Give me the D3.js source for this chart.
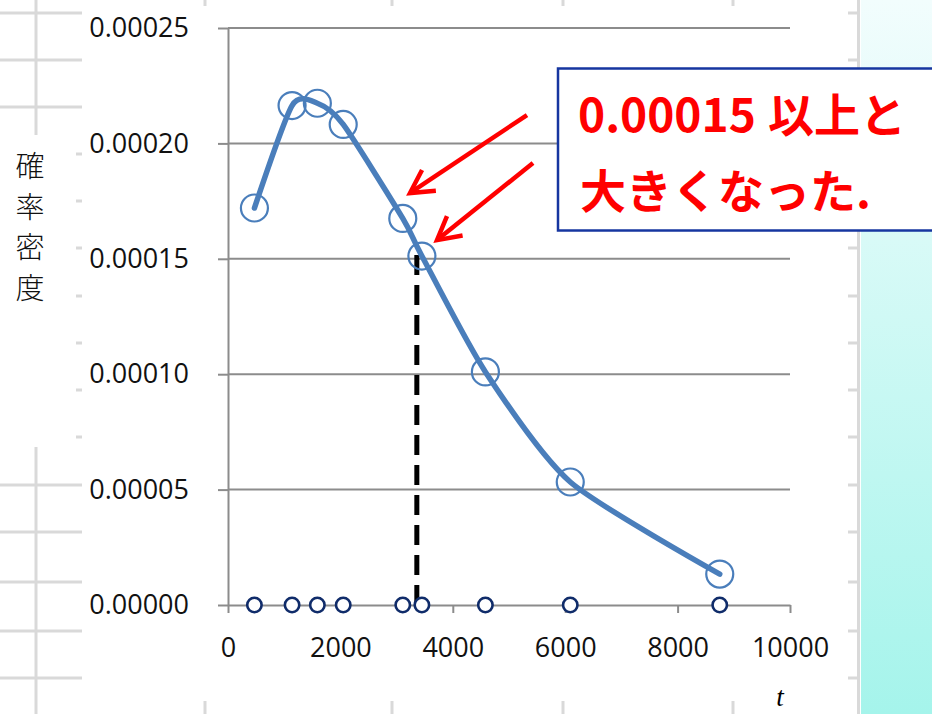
<!DOCTYPE html>
<html><head><meta charset="utf-8">
<script src="https://cdn.jsdelivr.net/npm/d3@7"></script>
<style>html,body{margin:0;padding:0;background:#fff;overflow:hidden}</style>
</head><body>
<svg id="chart" width="932" height="714"></svg>
<script>
// ---- data ----
const tValues = [470, 1140, 1590, 2050, 3110, 3450, 4580, 6090, 8750];
const density = [0.000172, 0.0002164, 0.0002174, 0.0002082, 0.0001675, 0.0001512, 0.000101, 0.0000533, 0.0000134];
const xTicks = [0, 2000, 4000, 6000, 8000, 10000];
const yTicks = [0, 0.00005, 0.0001, 0.00015, 0.0002, 0.00025];
const yTickLabels = ["0.00000", "0.00005", "0.00010", "0.00015", "0.00020", "0.00025"];
const thresholdT = 3360;
const thresholdTop = 0.0001545;
const yTitleChars = ["確", "率", "密", "度"];
const xTitle = "t";
const noteLines = [["0.00015", "以上と"], ["大きくなった."]];
// arrow tails/tips in data units: [tailT, tailD, tipT, tipD]
const arrows = [[5320, 0.0002123, 3238, 0.0001785], [5427, 0.0001915, 3719, 0.0001581]];

const svg = d3.select("#chart");
const W = 932, H = 714;

// ---- spreadsheet background ----
const sheet = svg.append("g").attr("stroke", "#d9d9d9").attr("stroke-width", 3);
const rows = [13, 60, 107, 154, 201, 248, 296, 343, 390, 437, 485, 532, 582, 631, 678];
rows.forEach(r => {
  const full = r < 130 || r > 450;
  sheet.append("line").attr("x1", full ? 0 : 76).attr("x2", 82).attr("y1", r).attr("y2", r);
  if (r < 65 || r > 240) sheet.append("line").attr("x1", 848).attr("x2", 858).attr("y1", r).attr("y2", r);
});
sheet.append("line").attr("x1", 36).attr("x2", 36).attr("y1", 0).attr("y2", 135);
sheet.append("line").attr("x1", 36).attr("x2", 36).attr("y1", 447).attr("y2", H);
[205, 392, 563, 733].forEach(c => {
  sheet.append("line").attr("x1", c).attr("x2", c).attr("y1", 0).attr("y2", 6);
  sheet.append("line").attr("x1", c).attr("x2", c).attr("y1", 701).attr("y2", H);
});
sheet.append("line").attr("x1", 858.5).attr("x2", 858.5).attr("y1", 0).attr("y2", H);

// right gradient panel
const defs = svg.append("defs");
const grad = defs.append("linearGradient").attr("id", "panel").attr("x1", 0).attr("y1", 0).attr("x2", 0).attr("y2", 1);
grad.append("stop").attr("offset", "0%").attr("stop-color", "#f2fdfd");
grad.append("stop").attr("offset", "100%").attr("stop-color", "#a5f4eb");
svg.append("rect").attr("x", 861).attr("y", 0).attr("width", W - 861).attr("height", H).attr("fill", "url(#panel)");

// ---- scales ----
const x = d3.scaleLinear().domain([0, 10000]).range([228, 790]);
const y = d3.scaleLinear().domain([0, 0.00025]).range([605, 28]);
const axisColor = "#8c8c8c";

// gridlines
svg.append("g").selectAll("line").data(yTicks.filter(v => v > 0)).join("line")
  .attr("x1", x(0)).attr("x2", x(10000)).attr("y1", d => y(d)).attr("y2", d => y(d))
  .attr("stroke", axisColor).attr("stroke-width", 2);

// axes
const yAxis = svg.append("g").attr("transform", `translate(${x(0)},0)`)
  .call(d3.axisLeft(y).tickValues(yTicks).tickFormat((d, i) => yTickLabels[i]).tickSizeInner(10).tickSizeOuter(0).tickPadding(29));
const xAxis = svg.append("g").attr("transform", `translate(0,${y(0)})`)
  .call(d3.axisBottom(x).tickValues(xTicks).tickFormat(d3.format("d")).tickSizeInner(8).tickSizeOuter(0).tickPadding(25));
[yAxis, xAxis].forEach(a => {
  a.selectAll(".domain").attr("stroke", axisColor).attr("stroke-width", 2);
  a.selectAll(".tick line").attr("stroke", axisColor).attr("stroke-width", 2);
  a.selectAll("text").attr("font-family", "'Open Sans', sans-serif").attr("font-size", 27).attr("fill", "#111");
});

// dashed threshold line
svg.append("line")
  .attr("x1", x(thresholdT)).attr("x2", x(thresholdT))
  .attr("y1", y(0)).attr("y2", y(thresholdTop))
  .attr("stroke", "#000").attr("stroke-width", 5).attr("stroke-dasharray", "20,10");

const pts = tValues.map((t, i) => [t, density[i]]);

// markers at zero
svg.append("g").selectAll("circle").data(tValues).join("circle")
  .attr("cx", d => x(d)).attr("cy", y(0)).attr("r", 7.2)
  .attr("fill", "#fff").attr("stroke", "#102c6a").attr("stroke-width", 2.6);

// big circles
svg.append("g").selectAll("circle").data(pts).join("circle")
  .attr("cx", d => x(d[0])).attr("cy", d => y(d[1])).attr("r", 13.5)
  .attr("fill", "none").attr("stroke", "#4a7ebb").attr("stroke-width", 2.2);

// smooth line
const line = d3.line().x(d => x(d[0])).y(d => y(d[1])).curve(d3.curveCardinal.tension(0.3));
svg.append("path").datum(pts).attr("d", line)
  .attr("fill", "none").attr("stroke", "#4a7ebb").attr("stroke-width", 5.5)
  .attr("stroke-linecap", "round").attr("stroke-linejoin", "round");

// arrows
const ag = svg.append("g").attr("stroke", "#ff0000").attr("stroke-width", 4.5).attr("fill", "none").attr("stroke-linecap", "butt");
arrows.forEach(a => {
  const x1 = x(a[0]), y1 = y(a[1]), x2 = x(a[2]), y2 = y(a[3]);
  const ang = Math.atan2(y1 - y2, x1 - x2);
  const L = 26, spread = 0.5;
  ag.append("line").attr("x1", x1).attr("y1", y1).attr("x2", x2 + Math.cos(ang) * 2).attr("y2", y2 + Math.sin(ang) * 2);
  ag.append("path").attr("stroke-linejoin", "miter")
    .attr("d", `M${x2 + Math.cos(ang + spread) * L},${y2 + Math.sin(ang + spread) * L}L${x2},${y2}L${x2 + Math.cos(ang - spread) * L},${y2 + Math.sin(ang - spread) * L}`);
});

// annotation box
svg.append("rect").attr("x", 558).attr("y", 68.5).attr("width", 400).attr("height", 162)
  .attr("fill", "#fff").attr("stroke", "#1636a0").attr("stroke-width", 2.5);
const note = svg.append("g").attr("font-family", "'Noto Sans CJK JP', sans-serif").attr("font-weight", 700)
  .attr("font-size", 46).attr("fill", "#ff0000");
const t1 = note.append("text").attr("y", 132);
t1.append("tspan").attr("x", 578).text(noteLines[0][0]);
t1.append("tspan").attr("x", 768).text(noteLines[0][1]);
note.append("text").attr("x", 580).attr("y", 208).text(noteLines[1][0]);

// y title (vertical)
const yt = svg.append("text").attr("font-family", "'Noto Sans CJK JP', sans-serif").attr("font-weight", 300)
  .attr("font-size", 29).attr("fill", "#111").attr("text-anchor", "middle");
yTitleChars.forEach((c, i) => {
  yt.append("tspan").attr("x", 30).attr("y", 177 + i * 40.5).text(c);
});

// x title
svg.append("text").attr("x", 780).attr("y", 706).attr("text-anchor", "middle")
  .attr("font-family", "'Liberation Serif', serif").attr("font-style", "italic").attr("font-size", 27)
  .attr("fill", "#000").text(xTitle);
</script>
</body></html>
